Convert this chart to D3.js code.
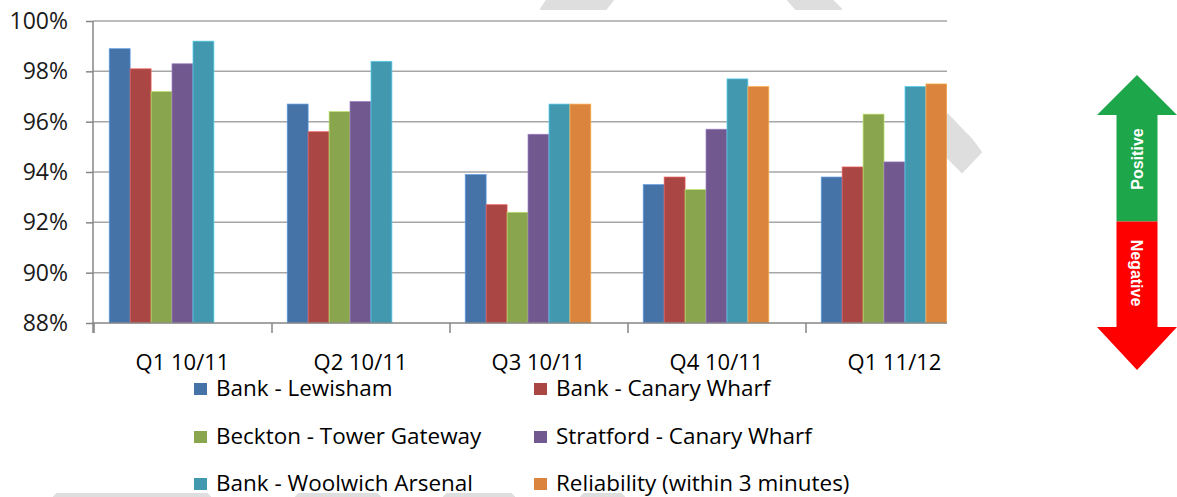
<!DOCTYPE html>
<html>
<head>
<meta charset="utf-8">
<script src="https://cdn.jsdelivr.net/npm/d3@7"></script>
<style>
  html, body { margin: 0; padding: 0; background: #ffffff; }
  svg { display: block; }
</style>
</head>
<body>
<svg id="chart" width="1177" height="497"></svg>
<script>
// ------------------------------------------------------------------
//   Data
// ------------------------------------------------------------------
const categories = ['Q1 10/11', 'Q2 10/11', 'Q3 10/11', 'Q4 10/11', 'Q1 11/12'];

const seriesNames = [
    'Bank - Lewisham',
    'Bank - Canary Wharf',
    'Beckton - Tower Gateway',
    'Stratford - Canary Wharf',
    'Bank - Woolwich Arsenal',
    'Reliability (within 3 minutes)'
];
const seriesColors = ['#4572a7', '#aa4643', '#89a54e', '#71588f', '#4198af', '#db843d'];

const bankLewisham         = [98.9, 96.7, 93.9, 93.5, 93.8];
const bankCanaryWharf      = [98.1, 95.6, 92.7, 93.8, 94.2];
const becktonTowerGateway  = [97.2, 96.4, 92.4, 93.3, 96.3];
const stratfordCanaryWharf = [98.3, 96.8, 95.5, 95.7, 94.4];
const bankWoolwichArsenal  = [99.2, 98.4, 96.7, 97.7, 97.4];
const reliability          = [null, null, 96.7, 97.4, 97.5];

const yTicks = [88, 90, 92, 94, 96, 98, 100];

const allSeries = [bankLewisham, bankCanaryWharf, becktonTowerGateway,
                   stratfordCanaryWharf, bankWoolwichArsenal, reliability];

// ------------------------------------------------------------------
//   Layout
// ------------------------------------------------------------------
const plot = { left: 93, top: 21, bottom: 323, clipRight: 947, band: 178 };
const font = "'Open Sans', Lato, sans-serif";

const svg = d3.select('#chart');

// scales
let x0 = d3.scaleBand()
    .domain(categories)
    .range([plot.left + 0.5, plot.left + 0.5 + plot.band * categories.length])
    .padding(0);

// 7 slots per group, last one stays empty (as in the source workbook)
let x1 = d3.scaleBand()
    .domain(d3.range(7))
    .range([0, x0.bandwidth()])
    .paddingInner(0)
    .paddingOuter(0.75);

let y = d3.scaleLinear()
    .domain([88, 100])
    .range([plot.bottom, plot.top]);

// ------------------------------------------------------------------
//   Watermark fragments (behind the chart object)
// ------------------------------------------------------------------
let wm = svg.append('g').attr('class', 'watermark').attr('fill', '#dedede');
let wmShapes = [
    [[547, 0], [613, 0], [606, 9], [541, 9]],
    [[788, 0], [832, 0], [841, 9], [796, 9]],
    [[947, 114], [972, 140], [981, 152], [962, 172], [947, 157]],
    [[54, 497], [57, 494], [207, 494], [210, 497]],
    [[296, 497], [299, 494], [377, 494], [380, 497]],
    [[444, 497], [447, 494], [511, 494], [514, 497]],
    [[581, 497], [584, 494], [621, 494], [624, 497]]
];
wm.selectAll('path')
    .data(wmShapes)
    .enter()
    .append('path')
    .attr('d', (d) => { return 'M' + d.map((p) => p.join(',')).join('L') + 'Z'; })
    .attr('stroke', '#dedede')
    .attr('stroke-width', 2)
    .attr('stroke-linejoin', 'round');

// ------------------------------------------------------------------
//   Grid + axes
// ------------------------------------------------------------------
svg.append('defs').append('clipPath')
    .attr('id', 'plotclip')
    .append('rect')
    .attr('x', 0).attr('y', 0)
    .attr('width', plot.clipRight).attr('height', 497);

let g = svg.append('g').attr('clip-path', 'url(#plotclip)');

g.append('g')
    .attr('class', 'grid')
    .selectAll('line')
    .data(yTicks.slice(1))
    .enter()
    .append('line')
    .attr('x1', plot.left)
    .attr('x2', plot.clipRight)
    .attr('y1', (d) => y(d))
    .attr('y2', (d) => y(d))
    .attr('stroke', '#a6a6a6')
    .attr('stroke-width', 1.5);

// bars
let rows = categories.map((c, i) => {
    return { cat: c, values: allSeries.map((s, k) => ({ k: k, v: s[i] })) };
});

g.append('g')
    .attr('class', 'bars')
    .selectAll('g')
    .data(rows)
    .enter()
    .append('g')
    .attr('transform', (d) => 'translate(' + x0(d.cat) + ',0)')
    .selectAll('rect')
    .data((d) => d.values.filter((e) => e.v !== null))
    .enter()
    .append('rect')
    .attr('x', (d) => x1(d.k))
    .attr('width', x1.bandwidth())
    .attr('y', (d) => y(d.v))
    .attr('height', (d) => y(88) - y(d.v))
    .attr('fill', (d) => seriesColors[d.k])
    .attr('stroke', (d) => d3.color(seriesColors[d.k]).brighter(0.9))
    .attr('stroke-width', 0.7);

// x axis
let xAxis = d3.axisBottom(x0).tickSize(0).tickPadding(0);
let gx = g.append('g')
    .attr('transform', 'translate(0,' + plot.bottom + ')')
    .call(xAxis);
gx.select('.domain').remove();
gx.append('line')
    .attr('x1', plot.left).attr('x2', plot.clipRight)
    .attr('y1', 0).attr('y2', 0)
    .attr('stroke', '#868686').attr('stroke-width', 1.5);
gx.selectAll('line.cat-tick')
    .data(d3.range(categories.length + 1))
    .enter()
    .append('line')
    .attr('class', 'cat-tick')
    .attr('x1', (i) => Math.round(plot.left + 0.5 + i * plot.band))
    .attr('x2', (i) => Math.round(plot.left + 0.5 + i * plot.band))
    .attr('y1', 0).attr('y2', 10)
    .attr('stroke', '#868686').attr('stroke-width', 1.5);
gx.selectAll('.tick text')
    .attr('y', 47)
    .attr('dy', 0)
    .attr('fill', '#000')
    .style('font-family', font)
    .style('font-size', '22px');

// y axis
let yAxis = d3.axisLeft(y)
    .tickValues(yTicks)
    .tickSize(7)
    .tickPadding(18)
    .tickFormat((d) => d + '%');
let gy = svg.append('g')
    .attr('transform', 'translate(' + plot.left + ',0)')
    .call(yAxis);
gy.select('.domain')
    .attr('d', 'M0,' + plot.top + 'V' + (plot.bottom + 10))
    .attr('stroke', '#868686').attr('stroke-width', 1.5);
gy.selectAll('.tick line').attr('stroke', '#868686').attr('stroke-width', 1.5);
gy.selectAll('.tick text')
    .attr('fill', '#1a1a1a')
    .style('font-family', font)
    .style('font-size', '23px');

// ------------------------------------------------------------------
//   Legend
// ------------------------------------------------------------------
let legendCols = [194, 534];
let legendRows = [389, 437, 484];

let lg = svg.append('g')
    .attr('class', 'legend')
    .selectAll('g')
    .data(seriesNames)
    .enter()
    .append('g')
    .attr('transform', (d, i) => 'translate(' + legendCols[i % 2] + ',' + legendRows[Math.floor(i / 2)] + ')');
lg.append('rect')
    .attr('x', 0).attr('y', -6)
    .attr('width', 13).attr('height', 12)
    .attr('fill', (d, i) => seriesColors[i]);
lg.append('text')
    .attr('transform', 'translate(22,7) scale(1.07,1)')
    .style('font-family', font)
    .style('font-size', '21px')
    .attr('fill', '#000')
    .text((d) => d);

// ------------------------------------------------------------------
//   Positive / Negative arrow
// ------------------------------------------------------------------
let arrow = { cx: 1137, shaft: 20.5, head: 40, top: 75, headTop: 115, mid: 221.5, headBot: 327, bottom: 370 };
let ag = svg.append('g').attr('class', 'arrow');

let up = [
    [arrow.cx, arrow.top],
    [arrow.cx + arrow.head, arrow.headTop],
    [arrow.cx + arrow.shaft, arrow.headTop],
    [arrow.cx + arrow.shaft, arrow.mid],
    [arrow.cx - arrow.shaft, arrow.mid],
    [arrow.cx - arrow.shaft, arrow.headTop],
    [arrow.cx - arrow.head, arrow.headTop]
];
let down = [
    [arrow.cx - arrow.shaft, arrow.mid],
    [arrow.cx + arrow.shaft, arrow.mid],
    [arrow.cx + arrow.shaft, arrow.headBot],
    [arrow.cx + arrow.head, arrow.headBot],
    [arrow.cx, arrow.bottom],
    [arrow.cx - arrow.head, arrow.headBot],
    [arrow.cx - arrow.shaft, arrow.headBot]
];
ag.append('polygon')
    .attr('points', up.map((p) => p.join(',')).join(' '))
    .attr('fill', '#1ea64b');
ag.append('polygon')
    .attr('points', down.map((p) => p.join(',')).join(' '))
    .attr('fill', '#ff0000');

ag.append('text')
    .attr('transform', 'translate(' + arrow.cx + ',159) rotate(-90)')
    .attr('text-anchor', 'middle')
    .attr('dy', '0.36em')
    .style('font-family', "'Liberation Sans', Arial, sans-serif")
    .style('font-weight', 'bold')
    .style('font-size', '16px')
    .attr('fill', '#ffffff')
    .text('Positive');
ag.append('text')
    .attr('transform', 'translate(' + arrow.cx + ',273) rotate(90)')
    .attr('text-anchor', 'middle')
    .attr('dy', '0.36em')
    .style('font-family', "'Liberation Sans', Arial, sans-serif")
    .style('font-weight', 'bold')
    .style('font-size', '16px')
    .attr('fill', '#ffffff')
    .text('Negative');
</script>
</body>
</html>
